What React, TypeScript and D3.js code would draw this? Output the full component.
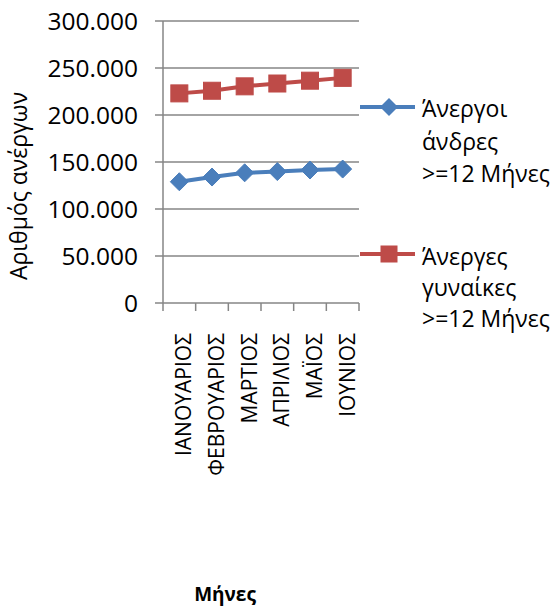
import React from "react";
import * as d3 from "d3";

const months = ["ΙΑΝΟΥΑΡΙΟΣ", "ΦΕΒΡΟΥΑΡΙΟΣ", "ΜΑΡΤΙΟΣ", "ΑΠΡΙΛΙΟΣ", "ΜΑΪΟΣ", "ΙΟΥΝΙΟΣ"];
const men = [129000, 134000, 138500, 139800, 141500, 142500];
const women = [223000, 225800, 230500, 233500, 236500, 239500];
const yTicks = [0, 50000, 100000, 150000, 200000, 250000, 300000];
const seriesNames = [["Άνεργοι", "άνδρες", ">=12 Μήνες"], ["Άνεργες", "γυναίκες", ">=12 Μήνες"]];
const yTitle = "Αριθμός ανέργων";
const xTitle = "Μήνες";

const FONT = "'Open Sans', 'Noto Sans', sans-serif";
const BLUE = "#4A7EBB";
const RED = "#BE4B48";
const GRID = "#868686";

export default function App() {
  const left = 163, right = 359, top = 21, bottom = 303;
  const x = d3.scaleBand<string>().domain(months).range([left, right]);
  const y = d3.scaleLinear().domain([0, 300000]).range([bottom, top]);
  const line = d3.line<number>().x((_, i) => x(months[i])! + x.bandwidth() / 2).y((d) => y(d));
  const label = (v: number) => (v === 0 ? "0" : d3.format(".3f")(v / 1000));
  const diamond = (cx: number, cy: number, r: number) => `M${cx},${cy - r}L${cx + r},${cy}L${cx},${cy + r}L${cx - r},${cy}Z`;
  const ticksX = d3.range(months.length + 1).map((i) => left + i * x.step());
  const legendYs = [[117, 149.5, 182], [265, 296, 327]];

  return (
    <svg width={557} height={608} style={{ position: "absolute", left: 0, top: 0, background: "#fff" }} fontFamily={FONT}>
      {yTicks.map((t) => (
        <g key={t}>
          <line x1={left - 8} x2={right} y1={y(t)} y2={y(t)} stroke={GRID} strokeWidth={1.5} />
          <text x={138} y={y(t)} dy="0.36em" textAnchor="end" fontSize={24.5} fill="#000">{label(t)}</text>
        </g>
      ))}
      <line x1={left} x2={left} y1={top} y2={bottom} stroke={GRID} strokeWidth={1.5} />
      {ticksX.map((tx, i) => (
        <line key={i} x1={tx} x2={tx} y1={bottom} y2={bottom + 8} stroke={GRID} strokeWidth={1.5} />
      ))}
      {months.map((m) => (
        <text key={m} transform={`translate(${x(m)! + x.bandwidth() / 2 + 12},333) rotate(-90)`} textAnchor="end" fontSize={21} fill="#000">{m}</text>
      ))}
      <text transform={`translate(27,186) rotate(-90)`} textAnchor="middle" fontSize={23} fill="#000">{yTitle}</text>
      <text x={225} y={601} textAnchor="middle" fontSize={19} fontWeight="bold" fill="#000">{xTitle}</text>

      <path d={line(men)!} fill="none" stroke={BLUE} strokeWidth={4} />
      {men.map((v, i) => (
        <path key={i} d={diamond(x(months[i])! + x.bandwidth() / 2, y(v), 9)} fill={BLUE} stroke={BLUE} strokeWidth={1} />
      ))}
      <path d={line(women)!} fill="none" stroke={RED} strokeWidth={4} />
      {women.map((v, i) => (
        <rect key={i} x={x(months[i])! + x.bandwidth() / 2 - 8.5} y={y(v) - 8.5} width={17} height={17} fill={RED} stroke={RED} strokeWidth={1} />
      ))}

      {/* legend */}
      <line x1={360} x2={415} y1={107} y2={107} stroke={BLUE} strokeWidth={4} />
      <path d={diamond(389, 107, 9)} fill={BLUE} />
      {seriesNames[0].map((s, i) => (
        <text key={s} x={422} y={legendYs[0][i]} fontSize={23} fill="#000">{s}</text>
      ))}
      <line x1={360} x2={415} y1={254} y2={254} stroke={RED} strokeWidth={4} />
      <rect x={380.5} y={245.5} width={17} height={17} fill={RED} />
      {seriesNames[1].map((s, i) => (
        <text key={s + i} x={422} y={legendYs[1][i]} fontSize={23} fill="#000">{s}</text>
      ))}
    </svg>
  );
}
